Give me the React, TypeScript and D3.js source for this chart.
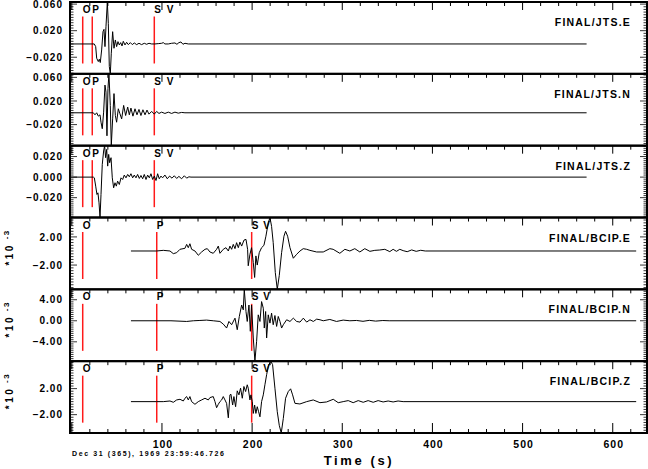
import * as d3 from 'd3'

// seismogram data, [time (s), amplitude]; BCIP values are in units of 1e-3
const jtsE: [number, number][] = [
  [-2, 0], [24.9, 0], [26.5, -0.004], [27.6, -0.0215], [29.4, -0.0265], [30.5, -0.023], [31.6, -0.028],
  [33.1, -0.009], [34.6, 0.0185], [35.7, 0.022], [36.8, -0.004], [37.9, 0.026], [39.4, 0.0632],
  [40.5, 0.031], [41.6, -0.034], [42.7, -0.045], [43.8, -0.014], [45.3, 0.0185], [46.8, -0.0065],
  [48.3, 0.006], [49.7, -0.004], [51.2, 0.0035], [52.7, -0.0015], [54.2, 0.002], [55.7, -0.003],
  [57.1, 0.004], [59.0, -0.0015], [60.8, 0.0025], [62.7, -0.001], [64.9, 0.002], [67.1, -0.001],
  [69.3, 0.0015], [71.9, -0.001], [74.5, 0.001], [77.4, -0.001], [80.4, 0.001], [83.0, -0.0005],
  [85.6, 0.001], [88.6, 0], [92.2, 0], [95.9, 0.0005], [99.6, 0.001], [101.5, 0.002], [103.3, 0],
  [107.0, 0], [110.7, 0.001], [114.4, 0.0015], [116.6, -0.0005], [118.8, 0.002], [121.1, 0.003],
  [123.3, -0.0005], [125.5, 0.001], [129.2, 0], [571, 0],
]

const jtsN: [number, number][] = [
  [-2, 0], [23.9, 0], [25.7, -0.0034], [27.6, 0], [29.4, -0.0057], [31.3, -0.0034], [32.4, -0.016],
  [33.8, -0.027], [35.3, 0.0011], [36.8, 0.047], [37.9, 0.035], [39.0, -0.039], [40.1, 0.041],
  [41.2, 0.066], [42.7, 0.0125], [43.8, -0.0557], [45.3, -0.0103], [46.8, 0.0325], [48.3, -0.0046],
  [49.7, -0.016], [51.6, 0.0068], [53.4, -0.0017], [55.3, -0.0103], [57.5, 0.0125], [59.7, -0.0046],
  [62.0, 0.0097], [63.8, -0.0034], [65.6, 0.008], [67.8, -0.0057], [70.1, 0.0068], [72.3, -0.0034],
  [74.5, 0.0057], [76.7, -0.0046], [78.9, 0.0051], [81.2, -0.0034], [83.4, 0.0046], [85.6, -0.0023],
  [88.6, 0.0023], [91.5, -0.0023], [94.1, 0.0023], [96.7, -0.0011], [99.6, 0.0011], [103.3, -0.0011],
  [107.0, 0.0011], [110.7, -0.0011], [114.4, 0.0011], [118.1, -0.0006], [121.8, 0.0006], [125.5, 0],
  [571, 0],
]

const jtsZ: [number, number][] = [
  [-2, 0], [23.9, 0], [25.0, -0.0007], [26.5, -0.0088], [27.9, -0.0169], [29.0, -0.0153], [30.2, -0.025],
  [31.3, -0.0393], [32.4, -0.0169], [33.8, 0.0124], [35.3, 0.0254], [36.4, 0.0306], [37.5, 0.0189],
  [38.7, 0.027], [39.8, 0.0107], [40.9, 0.0221], [42.0, 0.014], [43.5, 0.0189], [44.9, -0.0007],
  [46.4, -0.0104], [47.9, -0.0055], [49.4, -0.0088], [50.8, -0.0039], [52.7, -0.0072], [54.6, -0.0007],
  [56.4, -0.0023], [58.2, 0.002], [60.1, -0.0007], [62.0, 0.0026], [63.8, 0.0003], [65.6, 0.0033],
  [67.5, -0.0007], [69.3, 0.002], [71.2, -0.0007], [73.0, 0.0026], [74.9, -0.0013], [76.7, 0.0016],
  [78.6, -0.0016], [80.4, 0.0026], [82.3, -0.0023], [84.1, 0.002], [86.0, -0.0007], [87.8, 0.0033],
  [89.7, -0.0023], [91.5, 0.001], [93.4, -0.0033], [95.2, 0.0033], [97.0, -0.0016], [98.9, 0.001],
  [100.7, -0.0007], [103.3, 0.002], [105.9, -0.0016], [108.5, 0.001], [111.1, -0.001], [113.7, 0.0013],
  [116.3, -0.0013], [118.8, 0.0007], [121.8, -0.0016], [124.8, 0.0013], [127.4, -0.001], [129.9, 0.0003],
  [132.2, 0], [571, 0],
]

const bcipE: [number, number][] = [
  [65.6, 0], [94.1, 0], [101.5, 0.09], [108.9, 0], [112.6, -0.38], [116.3, -0.24], [120.0, 0.24],
  [125.5, 0.38], [127.4, 0.94], [129.2, 0.47], [131.0, 1.03], [132.9, 0.24], [136.6, 0], [140.3, -0.61],
  [144.0, -0.14], [147.7, 0.24], [150.3, 0.33], [153.2, -0.14], [156.9, -0.33], [160.6, 0.24],
  [162.5, 0.7], [164.3, -0.33], [168.0, 0.24], [171.0, 0.47], [173.6, 0], [175.4, 0.7], [177.3, 0.24],
  [179.1, 0.94], [181.0, 0.33], [182.8, 1.18], [184.7, 0.47], [186.5, 1.27], [188.4, 0.7], [191.0, 1.55],
  [193.2, 1.65], [195.0, 0.24], [195.7, -2.1], [197.6, -0.47], [199.4, 0.47], [201.3, -1.65],
  [202.8, -3.76], [204.2, -0.7], [205.7, -2.0], [207.9, -0.24], [210.5, 0.47], [213.1, 0.8],
  [215.3, 2.1], [217.9, 4.0], [219.8, 4.76], [221.6, 3.5], [223.4, 1.18], [225.7, -3.05], [227.9, -5.45],
  [230.1, -3.5], [232.7, -0.24], [235.3, 2.1], [237.1, 2.8], [239.4, 2.1], [242.0, 0.47], [245.7, -1.03],
  [249.4, -0.47], [253.1, 0], [256.7, 0.33], [260.5, 0.24], [264.1, 0.09], [271.5, -0.14], [278.9, -0.14],
  [286.2, 0.33], [289.9, 0.24], [297.3, -0.33], [302.9, 0.24], [308.4, 0], [313.9, 0.33], [319.5, -0.14],
  [325.0, 0.33], [330.6, -0.05], [336.1, 0.09], [341.6, 0.14], [347.2, 0.24], [352.7, -0.09],
  [356.4, 0.24], [360.1, -0.05], [363.8, 0.24], [367.5, 0.05], [372, -0.1], [377, 0.15], [382, -0.05],
  [387, 0.1], [392, 0], [626, 0],
]

const bcipN: [number, number][] = [
  [65.6, 0], [110, 0], [127.4, -0.13], [134.8, 0], [142.1, 0.06], [149.5, 0.13], [156.9, 0],
  [164.3, -0.13], [168.0, -0.63], [171.7, -1.38], [174.3, -0.13], [177.3, -0.75], [181.0, 0.5],
  [183.5, -1.7], [185.8, 0.82], [188.4, 3.0], [190.2, 2.08], [191.3, 5.98], [193.2, 1.76], [194.6, -0.13],
  [196.5, 3.0], [198.0, -2.0], [199.4, 3.0], [201.3, -3.27], [203.1, -7.68], [205.0, -3.9], [206.8, 1.13],
  [208.7, -0.13], [210.5, 3.65], [212.4, 2.39], [213.5, -1.38], [215.0, 1.76], [216.1, -3.27],
  [217.9, 1.13], [219.8, -0.44], [221.6, 1.45], [223.4, -0.75], [225.3, 1.0], [227.2, -1.07], [229.0, 0.82],
  [230.9, -0.13], [232.7, -1.38], [234.6, -0.75], [238.3, 0.19], [242.0, -0.13], [245.7, 0.5],
  [249.4, -0.13], [253.1, -0.25], [256.8, 0.5], [260.5, -0.25], [264.2, 0.19], [267.9, -0.13],
  [271.6, 0.31], [275.3, 0.19], [278.9, 0], [286.2, 0.25], [293.6, -0.13], [301.0, 0.13], [308.4, 0],
  [315.8, 0.06], [323, -0.1], [330, 0.08], [337, -0.06], [345, 0.05], [352, 0], [626, 0],
]

const bcipZ: [number, number][] = [
  [65.6, 0], [94.1, 0], [101.5, 0], [108.9, 0.1], [112.6, -0.1], [116.3, 0.26], [120.0, 0.36], [123.7, 0.1],
  [125.5, 0.52], [127.4, 0.78], [129.2, 0.26], [131.0, 0.78], [132.9, 0], [136.6, -0.41], [140.3, 0],
  [144.0, 0.26], [147.7, 0.52], [151.4, 0.26], [153.2, 0.62], [156.9, 0.78], [158.8, 0], [160.6, -0.93],
  [162.5, -0.41], [164.3, 0], [166.2, 0.26], [168.0, 0.78], [169.9, 0.26], [171.7, -0.26], [173.6, -2.49],
  [175.4, 1.04], [176.5, 1.14], [178.4, -0.52], [179.8, 0.78], [181.7, -0.78], [183.5, 1.66], [185.4, 1.04],
  [187.2, 2.07], [189.1, 0.52], [190.9, 2.33], [192.8, 1.55], [194.6, 2.59], [195.7, 2.07], [197.6, 0.26],
  [198.7, 1.04], [200.2, 0], [201.3, -1.81], [202.8, -0.52], [204.2, -1.81], [205.7, -0.78], [207.2, -1.55],
  [208.7, -2.33], [210.5, 0], [212.4, 1.04], [214.2, 2.59], [216.1, 4.14], [217.9, 5.44], [220.5, 6.22],
  [222.7, 5.7], [225.3, 2.07], [227.9, -1.55], [230.1, -3.63], [232.3, -4.82], [234.6, -2.59], [237.1, 0.52],
  [240.1, 1.55], [242.7, 1.97], [244.9, 1.04], [247.5, -0.26], [253.0, -0.36], [260.5, 0], [267.8, 0.26],
  [275.2, -0.16], [282.6, -0.05], [290.0, 0.36], [295.5, -0.16], [301.0, 0], [306.6, 0.16], [312.1, -0.16],
  [317.7, 0.16], [323.2, -0.1], [328.7, 0.16], [334.3, -0.1], [339.8, 0.16], [345.3, -0.05], [350.9, 0.1],
  [356.4, -0.05], [361.9, 0.1], [367.5, 0], [626, 0],
]

const stationNames = ['FINAL/JTS.E', 'FINAL/JTS.N', 'FINAL/JTS.Z', 'FINAL/BCIP.E', 'FINAL/BCIP.N', 'FINAL/BCIP.Z']
const traces = [jtsE, jtsN, jtsZ, bcipE, bcipN, bcipZ]
const yTickLabels = [
  [0.06, 0.02, -0.02],
  [0.06, 0.02, -0.02],
  [0.02, 0, -0.02],
  [2, -2],
  [4, 0, -4],
  [2, -2],
]
const yMinorStep = [0.004, 0.004, 0.002, 0.4, 0.4, 0.4]
const yExponent = [0, 0, 0, -3, -3, -3]

const jtsPicks = [
  { name: 'O', t: 12.1, line: true },
  { name: 'P', t: 22.7, line: true },
  { name: 'S', t: 91.5, line: true },
  { name: 'V', t: 105.3, line: false },
]
const bcipPicks = [
  { name: 'O', t: 12.1, line: true },
  { name: 'P', t: 94.2, line: true },
  { name: 'S', t: 199.5, line: true },
  { name: 'V', t: 212.4, line: false },
]
const picks = [jtsPicks, jtsPicks, jtsPicks, bcipPicks, bcipPicks, bcipPicks]

const timeDomain: [number, number] = [-2, 638]
const xTickLabels = [100, 200, 300, 400, 500, 600]
const dateLabel = 'Dec 31 (365), 1969 23:59:46.726'
const xTitle = 'Time (s)'

const W = 648
const H = 469
const left = 70
const right = 647
const top = 2
const bottom = 433
const font = 'Liberation Sans, Arial, Helvetica, sans-serif'

export default function App() {
  const x = d3.scaleLinear().domain(timeDomain).range([left, right])
  const ph = (bottom - top) / traces.length
  const minorTimes = d3.range(0, timeDomain[1], 20)

  return (
    <svg width={W} height={H} style={{ position: 'absolute', left: 0, top: 0, background: '#fff' }}
      fontFamily={font} fontWeight="bold">
      {traces.map((data, i) => {
        const pTop = top + i * ph
        const ext = d3.extent(data, (d) => d[1]) as [number, number]
        const y = d3.scaleLinear().domain(ext).range([pTop + ph, pTop])
        const line = d3.line<[number, number]>().x((d) => x(d[0])).y((d) => y(d[1]))
        const step = yMinorStep[i]
        const minor = d3.range(Math.ceil(ext[0] / step - 1e-6), Math.floor(ext[1] / step + 1e-6) + 1).map((k) => k * step)
        const fmt = yExponent[i] ? d3.format('.2f') : d3.format('.3f')
        const mid = pTop + ph / 2
        return (
          <g key={i}>
            {/* pick markers */}
            {picks[i].map((p) => (
              <g key={p.name}>
                {p.line && (
                  <line x1={x(p.t)} x2={x(p.t)} y1={pTop + 14.5} y2={pTop + 61.5} stroke="#ff1a1a" strokeWidth={1.5} />
                )}
                <text x={x(p.t)} y={pTop + 11} fontSize={10} letterSpacing={0.5}>{p.name}</text>
              </g>
            ))}
            <path d={line(data) ?? ''} fill="none" stroke="#000" strokeWidth={1} strokeLinejoin="round" />
            {/* time ticks along top edge of panel */}
            {minorTimes.map((t) => (
              <line key={t} x1={x(t)} x2={x(t)} y1={pTop} y2={pTop + (t % 100 === 0 ? 8 : 4)} stroke="#000" strokeWidth={1} />
            ))}
            {/* amplitude ticks */}
            {minor.map((v, j) => {
              const major = yTickLabels[i].some((l) => Math.abs(l - v) < step / 4)
              const len = major ? 7 : 3.5
              return (
                <g key={j}>
                  <line x1={left} x2={left + len} y1={y(v)} y2={y(v)} stroke="#000" strokeWidth={0.8} />
                  <line x1={right - len} x2={right} y1={y(v)} y2={y(v)} stroke="#000" strokeWidth={0.8} />
                </g>
              )
            })}
            {yTickLabels[i].map((v) => (
              <text key={v} x={63} y={y(v)} dy="0.36em" textAnchor="end" fontSize={10} letterSpacing={1}>
                {fmt(v)}
              </text>
            ))}
            {yExponent[i] !== 0 && (
              <text transform={`translate(13,${mid - 6}) rotate(-90)`} textAnchor="middle" fontSize={10} letterSpacing={2.5}>
                *10
                <tspan dy={-4} fontSize={8} letterSpacing={1.5}>{` ${yExponent[i]}`}</tspan>
              </text>
            )}
            <text x={631} y={pTop + 24} textAnchor="end" fontSize={10.5} letterSpacing={1.2}>{stationNames[i]}</text>
            <rect x={left} y={pTop} width={right - left} height={ph} fill="none" stroke="#000" strokeWidth={2} />
          </g>
        )
      })}
      {/* bottom time axis */}
      {minorTimes.map((t) => (
        <line key={t} x1={x(t)} x2={x(t)} y1={bottom} y2={bottom - (t % 100 === 0 ? 10 : 4)} stroke="#000" strokeWidth={1} />
      ))}
      {xTickLabels.map((t) => (
        <text key={t} x={x(t) + 1} y={448} textAnchor="middle" fontSize={10.5} letterSpacing={1}>{t}</text>
      ))}
      <text x={72} y={456} fontSize={7} letterSpacing={1.6}>{dateLabel}</text>
      <text x={359} y={465} textAnchor="middle" fontSize={13} letterSpacing={2.6}>{xTitle}</text>
    </svg>
  )
}
